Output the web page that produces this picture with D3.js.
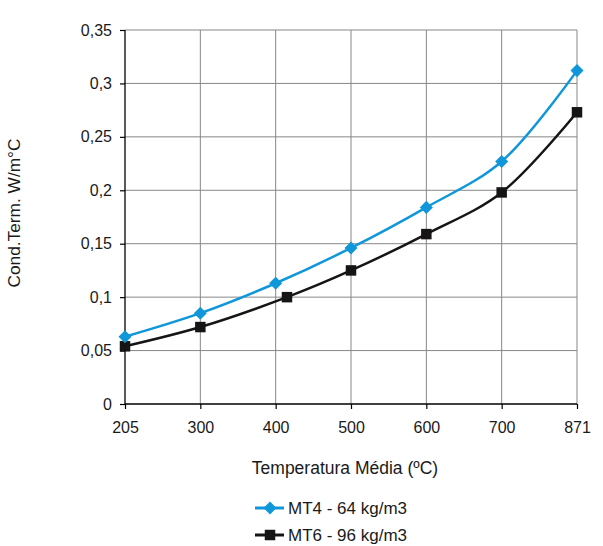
<!DOCTYPE html>
<html><head><meta charset="utf-8">
<script src="https://cdn.jsdelivr.net/npm/d3@7/dist/d3.min.js"></script>
<style>body{margin:0;background:#fff}svg{display:block;font-family:"Liberation Sans",Arial,sans-serif}</style>
</head><body><svg id="c" width="603" height="546"></svg>
<script>
const xTicks = [205, 300, 400, 500, 600, 700, 871];
const yTicks = [0, 0.05, 0.1, 0.15, 0.2, 0.25, 0.3, 0.35];
const mt4X = [205, 300, 400, 500, 600, 700, 871];
const mt4Y = [0.063, 0.085, 0.113, 0.146, 0.184, 0.227, 0.312];
const mt6X = [205, 300, 415, 500, 600, 700, 871];
const mt6Y = [0.054, 0.072, 0.100, 0.125, 0.159, 0.198, 0.273];
const seriesNames = ["MT4 - 64 kg/m3", "MT6 - 96 kg/m3"];

const L = 125, R = 577, T = 30, B = 404;
const svg = d3.select("#c");
const x = d3.scaleLinear().domain(xTicks).range(xTicks.map((d, i) => L + (R - L) * i / (xTicks.length - 1)));
const y = d3.scaleLinear().domain([0, 0.35]).range([B, T]);
const fmt = d => d3.format("")(+d.toFixed(2)).replace(".", ",");

// grid
const g = svg.append("g");
g.selectAll(".hg").data(yTicks.filter(d => d > 0)).join("line")
  .attr("x1", L).attr("x2", R).attr("y1", d => y(d)).attr("y2", d => y(d))
  .attr("stroke", "#878787").attr("stroke-width", 1);
g.selectAll(".vg").data(xTicks.slice(1)).join("line")
  .attr("x1", d => x(d)).attr("x2", d => x(d)).attr("y1", T).attr("y2", B)
  .attr("stroke", "#878787").attr("stroke-width", 1);

// axes
const ya = svg.append("g").attr("transform", `translate(${L},0)`)
  .call(d3.axisLeft(y).tickValues(yTicks).tickFormat(fmt).tickSize(5).tickPadding(8));
const xa = svg.append("g").attr("transform", `translate(0,${B})`)
  .call(d3.axisBottom(x).tickValues(xTicks).tickFormat(d => d).tickSize(5).tickPadding(13));
[ya, xa].forEach(a => {
  a.selectAll("line").attr("stroke", "#000").attr("stroke-width", 1.2);
  a.selectAll("text").attr("fill", "#1a1a1a").style("font-size", "16px");
});
ya.select(".domain").remove(); xa.select(".domain").remove();
svg.append("line").attr("x1", L).attr("x2", L).attr("y1", T).attr("y2", B).attr("stroke", "#000").attr("stroke-width", 1.3);
svg.append("line").attr("x1", L).attr("x2", R).attr("y1", B).attr("y2", B).attr("stroke", "#000").attr("stroke-width", 1.3);

// titles
svg.append("text").attr("transform", `translate(20,213) rotate(-90)`).attr("text-anchor", "middle")
  .style("font-size", "17.3px").attr("fill", "#1a1a1a").text("Cond.Term. W/m°C");
svg.append("text").attr("x", 345).attr("y", 474).attr("text-anchor", "middle")
  .style("font-size", "17.5px").attr("fill", "#1a1a1a").text("Temperatura Média (ºC)");

const blue = "#1097d9", black = "#161414";
const line = d3.line().x(d => x(d[0])).y(d => y(d[1])).curve(d3.curveCatmullRom.alpha(0.5));
const s4 = mt4X.map((d, i) => [d, mt4Y[i]]);
const s6 = mt6X.map((d, i) => [d, mt6Y[i]]);
svg.append("path").attr("d", line(s6)).attr("fill", "none").attr("stroke", black).attr("stroke-width", 2.5);
svg.append("path").attr("d", line(s4)).attr("fill", "none").attr("stroke", blue).attr("stroke-width", 2.5);
const diamond = d3.symbol().type(d3.symbolSquare).size(85);
const square = d3.symbol().type(d3.symbolSquare).size(110);
svg.selectAll(".m6").data(s6).join("path").attr("d", square())
  .attr("transform", d => `translate(${x(d[0])},${y(d[1])})`).attr("fill", black);
svg.selectAll(".m4").data(s4).join("path").attr("d", diamond())
  .attr("transform", d => `translate(${x(d[0])},${y(d[1])}) rotate(45)`).attr("fill", blue);

// legend
const lg = svg.append("g");
[[blue, diamond, 45], [black, square, 0]].forEach((c, i) => {
  const yy = 508 + i * 27;
  lg.append("line").attr("x1", 255).attr("x2", 284).attr("y1", yy).attr("y2", yy).attr("stroke", c[0]).attr("stroke-width", 3);
  lg.append("path").attr("d", c[1]()).attr("transform", `translate(270,${yy}) rotate(${c[2]})`).attr("fill", c[0]);
  lg.append("text").attr("x", 288).attr("y", yy + 6).style("font-size", "17px").attr("fill", "#1a1a1a").text(seriesNames[i]);
});
</script></body></html>
